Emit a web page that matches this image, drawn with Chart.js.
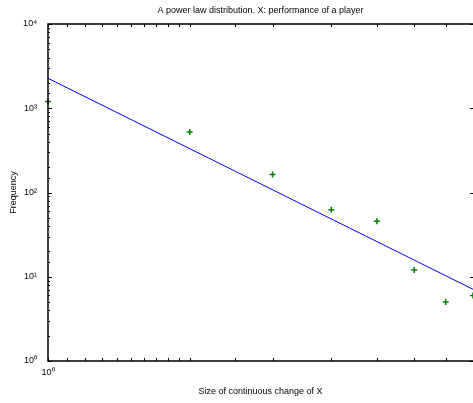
<!DOCTYPE html>
<html lang="en">
<head>
<meta charset="UTF-8">
<title>A power law distribution</title>
<script src="https://cdn.jsdelivr.net/npm/chart.js"></script>
<style>
  html, body { margin: 0; padding: 0; background: #fff; overflow: hidden; }
  #chart { display: block; }
</style>
</head>
<body>
<canvas id="chart" width="473" height="403"></canvas>
<script>
// observed sizes of change and how often each one happened
const sizes = [1, 2, 3, 4, 5, 6, 7, 8];
const frequencies = [1200, 522, 163, 62.5, 45.5, 12, 5, 6];
// fitted power law, two end points
const fitSizes = [1, 8];
const fitValues = [2266, 7.1];

const titleText = 'A power law distribution. X: performance of a player';
const xTitle = 'Size of continuous change of X';
const yTitle = 'Frequency';
const xTickLabels = { 1: '10\u2070' };
const yTickLabels = { 1: '10\u2070', 10: '10\u00b9', 100: '10\u00b2', 1000: '10\u00b3', 10000: '10\u2074' };

const FONT = "'Liberation Sans', Helvetica, Arial, sans-serif";

// matlab style axes with inward ticks; the right edge of the box falls just outside the picture.
// x tick labels are drawn here too
const axesBox = {
    id: 'axesBox',
    afterDatasetsDraw(chart) {
        const { ctx, chartArea: a, scales: { x, y } } = chart;
        ctx.save();
        ctx.strokeStyle = '#000';
        ctx.lineWidth = 1;
        ctx.beginPath();
        x.ticks.forEach(t => {
            const px = Math.round(x.getPixelForValue(t.value)) + 0.5;
            ctx.moveTo(px, a.bottom); ctx.lineTo(px, a.bottom - 3);
            ctx.moveTo(px, a.top); ctx.lineTo(px, a.top + 3);
        });
        y.ticks.forEach(t => {
            const py = Math.round(y.getPixelForValue(t.value)) + 0.5;
            if (yTickLabels[t.value]) {
                ctx.moveTo(a.right, py); ctx.lineTo(a.right - 3, py);
            }
            ctx.moveTo(a.left, py); ctx.lineTo(a.left + (yTickLabels[t.value] ? 4 : 2), py);
        });
        ctx.stroke();
        ctx.lineWidth = 1.5;
        const l = Math.round(a.left), t = Math.round(a.top), b = Math.round(a.bottom);
        ctx.beginPath();
        ctx.moveTo(a.right + 2, t); ctx.lineTo(l, t); ctx.lineTo(l, b); ctx.lineTo(a.right + 2, b);
        ctx.stroke();
        ctx.fillStyle = '#000';
        ctx.font = '9px ' + FONT;
        ctx.textAlign = 'center';
        ctx.textBaseline = 'middle';
        ctx.fillText(titleText, (a.left + a.right) / 2, 11);
        Object.keys(xTickLabels).forEach(v => {
            ctx.fillText(xTickLabels[v], x.getPixelForValue(Number(v)), a.bottom + 12);
        });
        ctx.restore();
    }
};

new Chart(document.getElementById('chart'), {
    type: 'scatter',
    data: {
        datasets: [
            {
                label: 'fit',
                data: fitSizes.map((s, i) => ({ x: s, y: fitValues[i] })),
                showLine: true,
                borderColor: '#0000ff',
                borderWidth: 1,
                pointRadius: 0
            },
            {
                label: 'data',
                data: sizes.map((s, i) => ({ x: s, y: frequencies[i] })),
                pointStyle: 'cross',
                pointRadius: 3,
                borderColor: '#008000',
                borderWidth: 1.5,
                clip: false
            }
        ]
    },
    options: {
        responsive: false,
        animation: false,
        // no auto padding for the markers, the last one sits half off the picture
        layout: { autoPadding: false, padding: { top: 24, right: 0, left: 0, bottom: 0 } },
        plugins: { legend: { display: false }, tooltip: { enabled: false }, title: { display: false } },
        scales: {
            x: {
                type: 'logarithmic',
                min: 1,
                max: 8,
                grid: { display: false },
                border: { display: false },
                ticks: { display: false },
                title: { display: true, text: xTitle, color: '#000', font: { family: FONT, size: 9 }, padding: { top: 0, bottom: 5.6 } },
                afterFit: s => { s.height = 42; }
            },
            y: {
                type: 'logarithmic',
                min: 1,
                max: 10000,
                grid: { display: false },
                border: { display: false },
                ticks: {
                    autoSkip: false,
                    padding: 3,
                    color: '#000',
                    font: { family: FONT, size: 9 },
                    callback: v => yTickLabels[v] || ''
                },
                title: { display: true, text: yTitle, color: '#000', font: { family: FONT, size: 9 }, padding: { top: 8.6, bottom: 0 } },
                afterFit: s => { s.width = 48; }
            }
        }
    },
    plugins: [axesBox]
});
</script>
</body>
</html>
